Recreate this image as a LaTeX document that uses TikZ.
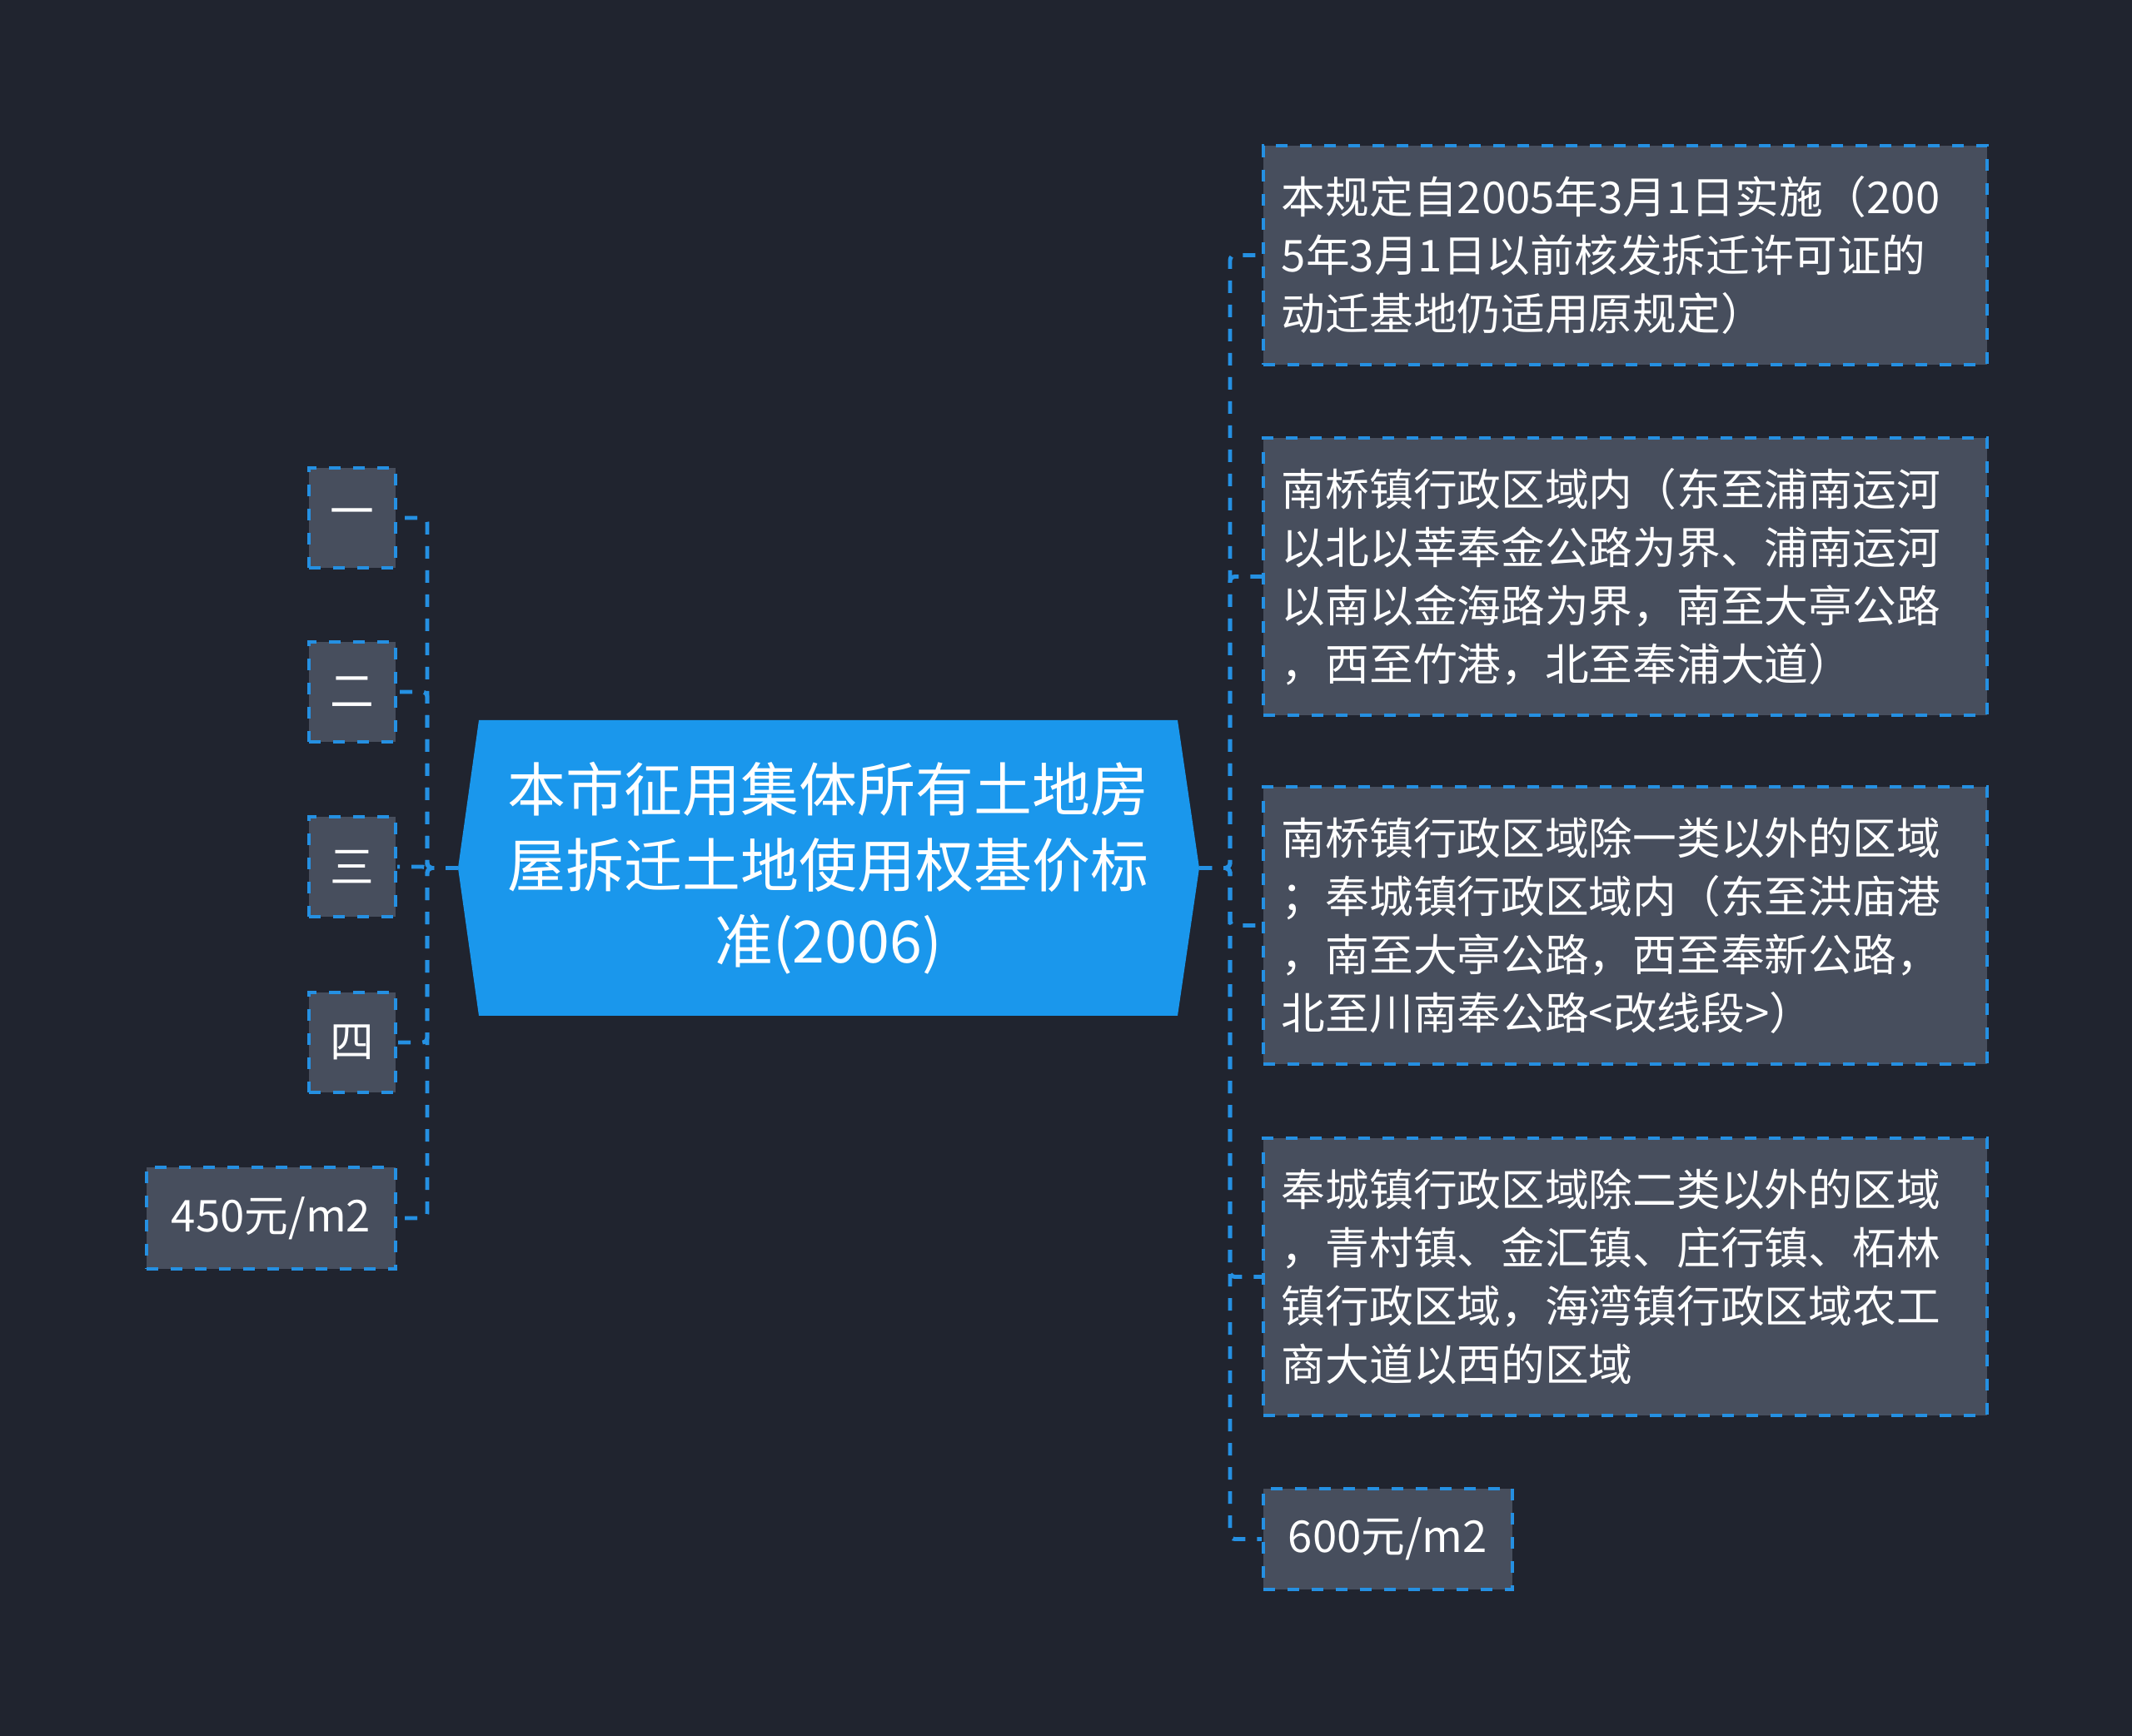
\documentclass[tikz,border=0pt]{standalone}
\usepackage{fontspec}
\setmainfont{Noto Sans CJK SC}
\definecolor{bgdark}{HTML}{20242F}
\definecolor{boxgray}{HTML}{474E5D}
\definecolor{rootblue}{HTML}{1A97EC}
\definecolor{linkblue}{HTML}{2590E2}

\begin{document}
\begin{tikzpicture}[
    leaf/.style={draw=linkblue,fill=boxgray,line width=1.1pt,dash pattern=on 0.14cm off 0.15cm,
      text=white,inner sep=0pt,font={\fontsize{15}{19.9}\selectfont}},
    note/.style={leaf,align=left,text width=8.25cm,inner xsep=0.22cm},
    link/.style={linkblue,line width=1.4pt,dash pattern=on 0.15cm off 0.14cm,rounded corners=0.06cm}
  ]
  \fill[bgdark] (0,0) rectangle (25.6,-20.85);
  \useasboundingbox (0,0) rectangle (25.6,-20.85);

  % central topic
  \coordinate (rootL) at (5.50,-10.425);
  \coordinate (rootR) at (14.40,-10.425);
  \fill[rootblue] (5.75,-8.65) -- (14.14,-8.65) -- (rootR) -- (14.14,-12.20) -- (5.75,-12.20) -- (rootL) -- cycle;
  \node[text=white,align=center,font={\fontsize{19.9}{25.9}\selectfont}] (root) at (9.945,-10.425)
    {本市征用集体所有土地房\\屋拆迁土地使用权基价标\\准(2006)};

  % left side
  \node[leaf,minimum width=1.04cm,minimum height=1.2cm,anchor=east] (one) at (4.77,-6.22) {一};
  \node[leaf,minimum width=1.04cm,minimum height=1.2cm,anchor=east] (two) at (4.77,-8.31) {二};
  \node[leaf,minimum width=1.04cm,minimum height=1.2cm,anchor=east] (three) at (4.77,-10.41) {三};
  \node[leaf,minimum width=1.04cm,minimum height=1.2cm,anchor=east] (four) at (4.77,-12.52) {四};
  \node[leaf,minimum width=2.99cm,minimum height=1.22cm,anchor=east] (p450) at (4.77,-14.63) {450元/m2};

  % right side
  \node[note,minimum height=2.63cm,anchor=west] (r1) at (15.15,-3.065)
    {本规定自2005年3月1日实施（200\\5年3月1日以前核发拆迁许可证的\\动迁基地仍适用原规定）};
  \node[note,minimum height=3.33cm,anchor=west] (r2) at (15.15,-6.925)
    {南桥镇行政区域内（东至浦南运河\\以北以莘奉金公路为界、浦南运河\\以南以金海路为界，南至大亭公路\\，西至竹港，北至奉浦大道）};
  \node[note,minimum height=3.33cm,anchor=west] (r3) at (15.15,-11.115)
    {南桥镇行政区域除一类以外的区域\\；奉城镇行政区域内（东至洪庙港\\，南至大亭公路，西至奉新公路，\\北至川南奉公路<改线段>）};
  \node[note,minimum height=3.33cm,anchor=west] (r4) at (15.15,-15.335)
    {奉城镇行政区域除二类以外的区域\\，青村镇、金汇镇、庄行镇、柘林\\镇行政区域，海湾镇行政区域农工\\商大道以西的区域};
  \node[leaf,minimum width=2.99cm,minimum height=1.21cm,anchor=west] (p600) at (15.15,-18.485) {600元/m2};

  % connectors
  \draw[link] (rootL) -- ++(-0.37,0) |- (one.east);
  \draw[link] (rootL) -- ++(-0.37,0) |- (two.east);
  \draw[link] (rootL) -- ++(-0.37,0) |- (three.east);
  \draw[link] (rootL) -- ++(-0.37,0) |- (four.east);
  \draw[link] (rootL) -- ++(-0.37,0) |- (p450.east);
  \draw[link] (rootR) -- ++(0.37,0) |- (r1.west);
  \draw[link] (rootR) -- ++(0.37,0) |- (r2.west);
  \draw[link] (rootR) -- ++(0.37,0) |- (r3.west);
  \draw[link] (rootR) -- ++(0.37,0) |- (r4.west);
  \draw[link] (rootR) -- ++(0.37,0) |- (p600.west);
\end{tikzpicture}
\end{document}
